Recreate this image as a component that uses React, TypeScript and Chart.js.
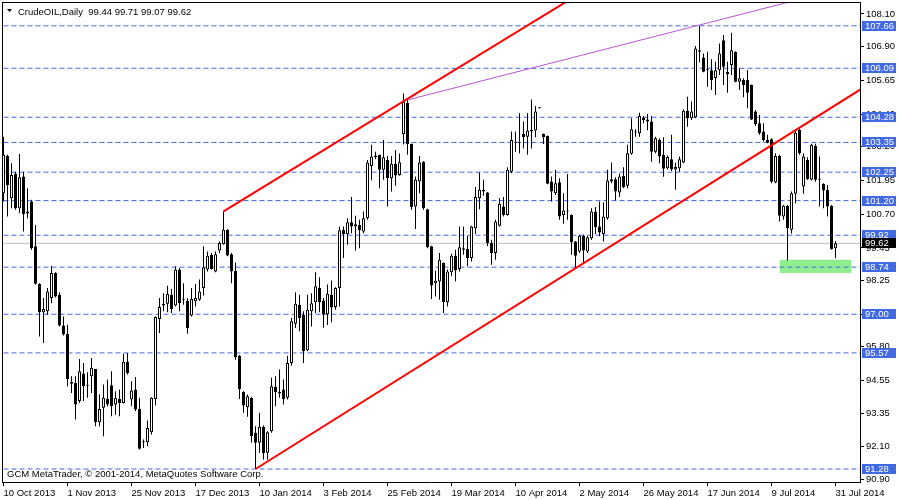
import React, { useEffect, useRef } from "react";
import { Chart, registerables } from "chart.js";

Chart.register(...registerables);

const symbolName = "CrudeOIL";
const timeframe = "Daily";

const opens = [
  101.47, 102.85, 101.29, 102.19, 100.92, 102.09, 100.72, 101.17, 99.51, 98.13,
  97.07, 97.11, 97.6, 98.52, 97.72, 96.58, 96.28, 94.5, 94.46, 93.79,
  94.81, 94.37, 94.71, 94.98, 93.01, 93.54, 93.88, 94.38, 93.66, 93.87,
  93.72, 95.24, 93.85, 94.22, 93.5, 92.29, 92.27, 92.64, 93.87, 96.82,
  97.32, 97.39, 97.72, 97.32, 98.65, 97.55, 97.5, 96.95, 97.48, 97.54,
  97.97, 98.65, 99.2, 98.58, 99.36, 99.59, 100.12, 99.22, 98.61, 95.47,
  94.13, 93.56, 93.91, 92.62, 92.25, 92.84, 91.88, 92.68, 94.31, 94.14,
  94.22, 93.91, 95.2, 96.65, 97.35, 96.98, 95.67, 97.11, 97.44, 97.97,
  97.51, 97.0, 97.72, 97.27, 97.97, 100.12, 99.97, 100.4, 100.24, 100.3,
  100.06, 100.55, 102.48, 102.87, 102.89, 102.34, 102.7, 102.03, 102.56, 102.15,
  103.66, 104.82, 103.29, 100.98, 101.91, 102.64, 100.88, 99.51, 98.15, 98.21,
  98.89, 97.44, 98.55, 99.16, 98.67, 99.44, 99.41, 99.08, 100.18, 101.29,
  101.54, 101.5, 99.63, 99.26, 100.27, 100.98, 100.67, 102.27, 103.34, 103.34,
  103.66, 103.56, 103.81, 103.79, 104.62, 103.66, 103.59, 101.91, 101.47, 101.88,
  100.67, 100.8, 100.67, 99.69, 99.32, 99.9, 99.32, 99.81, 100.8, 100.24,
  99.97, 100.55, 101.91, 101.99, 101.5, 102.11, 101.75, 102.93, 103.75, 103.69,
  104.27, 104.2, 104.12, 103.01, 103.44, 102.89, 102.4, 102.73, 102.35, 102.4,
  102.61, 104.52, 104.24, 104.28, 106.76, 106.49, 106.03, 106.02, 105.72, 106.02,
  107.13, 105.96, 106.21, 106.7, 105.59, 105.66, 105.66, 105.47, 104.49, 104.06,
  103.75, 103.44, 103.47, 101.87, 102.85, 100.61, 101.01, 100.12, 101.45, 103.81,
  101.72, 102.7, 101.97, 103.22, 101.99, 101.82, 101.6, 101.01, 99.44,
];

const highs = [
  103.56, 102.89, 102.58, 102.27, 102.92, 102.27, 101.66, 101.23, 100.3, 98.15,
  97.6, 97.97, 98.79, 98.55, 97.81, 96.92, 96.61, 94.71, 94.71, 95.35,
  95.2, 94.86, 95.38, 94.98, 94.03, 94.4, 94.59, 94.89, 94.15, 94.22,
  95.54, 95.57, 94.52, 94.68, 93.91, 92.37, 93.07, 93.93, 96.92, 97.6,
  97.78, 98.05, 97.93, 98.77, 98.71, 98.15, 97.6, 97.97, 98.12, 98.28,
  99.51, 99.32, 99.26, 99.32, 99.69, 100.8, 100.14, 99.26, 98.91, 95.49,
  94.15, 94.03, 93.93, 92.86, 93.36, 92.89, 92.68, 94.65, 94.71, 94.96,
  94.59, 95.47, 96.86, 97.81, 97.72, 97.11, 97.72, 97.78, 98.55, 98.37,
  97.6, 98.1, 98.25, 98.0, 100.24, 100.24, 100.55, 101.33, 100.64, 100.49,
  100.8, 102.7, 103.26, 103.01, 102.89, 103.44, 102.85, 102.85, 103.07, 102.94,
  105.16, 104.92, 103.31, 102.09, 102.85, 102.66, 100.9, 99.53, 98.61, 99.26,
  98.91, 98.65, 99.24, 99.38, 100.24, 100.24, 99.9, 100.27, 101.7, 102.24,
  101.97, 101.52, 99.75, 100.49, 101.29, 101.33, 102.43, 103.75, 103.75, 104.43,
  104.12, 104.43, 104.94, 104.7, 104.64, 103.68, 103.61, 102.09, 102.34, 102.03,
  101.47, 102.18, 100.69, 99.71, 99.94, 99.94, 99.9, 100.92, 100.96, 101.17,
  101.13, 102.34, 102.61, 102.06, 102.19, 102.43, 103.26, 104.24, 103.84, 104.45,
  104.33, 104.4, 104.33, 103.56, 103.5, 103.54, 102.87, 103.63, 102.6, 102.83,
  104.57, 105.04, 104.86, 106.91, 107.66, 106.64, 106.7, 106.42, 106.33, 107.01,
  107.32, 106.33, 107.4, 106.72, 106.09, 105.72, 106.03, 105.49, 104.55, 104.36,
  104.06, 103.63, 103.5, 102.95, 102.89, 101.04, 101.04, 101.54, 103.81, 103.87,
  102.95, 102.8, 103.3, 103.3, 102.83, 101.84, 101.78, 101.03, 99.71,
];

const lows = [
  101.17, 100.61, 100.92, 100.86, 100.73, 100.06, 100.55, 99.38, 98.09, 96.18,
  95.94, 96.98, 97.41, 97.62, 96.55, 96.21, 94.34, 94.09, 93.11, 93.72,
  93.79, 93.91, 94.09, 92.86, 92.86, 92.49, 93.6, 93.23, 93.29, 93.23,
  93.7, 94.77, 93.6, 93.42, 92.0, 92.06, 92.12, 92.56, 93.63, 96.31,
  97.11, 97.07, 97.05, 97.29, 97.11, 97.35, 96.28, 96.92, 97.29, 97.5,
  97.69, 98.58, 98.65, 98.55, 99.26, 99.57, 99.14, 98.15, 95.32, 93.87,
  93.36, 93.21, 92.25, 91.28, 91.88, 91.63, 91.63, 92.62, 93.6, 93.91,
  93.66, 93.85, 95.1, 96.49, 96.37, 95.2, 95.63, 96.55, 97.05, 97.07,
  96.5, 96.6, 96.7, 97.17, 97.29, 99.08, 99.57, 99.99, 99.36, 99.44,
  99.99, 100.49, 101.95, 102.73, 101.66, 101.97, 100.98, 101.54, 101.75, 102.12,
  103.27, 102.89, 100.86, 100.15, 101.47, 100.86, 99.44, 97.56, 97.66, 97.54,
  97.05, 97.29, 98.4, 98.22, 98.58, 99.2, 98.77, 98.95, 99.97, 100.88,
  101.38, 99.51, 98.83, 99.01, 100.24, 100.61, 100.64, 102.21, 103.01, 102.95,
  103.13, 102.89, 103.13, 103.54, 104.6, 103.29, 101.8, 101.17, 101.41, 100.49,
  100.34, 100.49, 99.2, 98.72, 99.26, 98.89, 99.26, 99.75, 99.97, 99.88,
  99.69, 100.49, 101.84, 101.2, 101.33, 101.66, 101.66, 102.89, 103.56, 103.56,
  104.06, 103.8, 102.64, 102.95, 102.58, 102.08, 102.34, 102.29, 101.6, 102.27,
  102.58, 103.93, 104.18, 104.24, 106.3, 105.94, 105.41, 105.29, 105.1, 105.84,
  105.47, 105.19, 105.84, 105.57, 105.29, 105.02, 104.61, 104.18, 103.96, 103.63,
  103.38, 103.32, 101.84, 101.84, 100.43, 100.49, 98.99, 99.98, 101.1, 102.89,
  101.45, 101.97, 101.94, 101.9, 100.98, 100.92, 100.61, 99.38, 99.07,
];

const closes = [
  102.89, 101.78, 102.15, 100.92, 102.06, 100.7, 100.8, 99.44, 98.13, 97.07,
  97.19, 97.84, 98.52, 97.66, 96.58, 96.25, 94.61, 94.43, 93.66, 94.89,
  94.34, 94.36, 95.02, 93.01, 93.5, 93.91, 93.66, 93.6, 93.91, 93.72,
  95.24, 94.83, 94.18, 93.48, 92.03, 92.27, 92.8, 93.91, 96.9, 97.27,
  97.38, 97.75, 97.19, 98.65, 97.41, 97.54, 96.49, 97.56, 97.6, 97.84,
  98.74, 99.16, 98.67, 99.22, 99.63, 100.12, 99.17, 98.58, 95.41, 94.24,
  93.63, 93.97, 92.49, 92.25, 92.84, 91.86, 92.64, 94.34, 94.12, 94.07,
  93.87, 95.2, 96.74, 97.39, 96.86, 95.63, 97.17, 97.41, 98.03, 97.44,
  96.98, 97.76, 97.25, 97.97, 100.1, 99.97, 100.4, 100.24, 100.33, 100.1,
  100.55, 102.61, 102.83, 102.8, 102.34, 102.8, 102.03, 102.56, 102.13, 102.62,
  104.84, 103.29, 100.96, 101.97, 102.61, 100.92, 99.48, 98.06, 98.24, 99.01,
  97.44, 98.58, 99.16, 98.62, 99.48, 99.38, 99.08, 100.24, 101.33, 101.6,
  101.6, 99.63, 99.26, 100.43, 101.08, 100.67, 102.34, 103.44, 103.34, 103.34,
  103.54, 103.79, 103.75, 104.49, 104.61, 103.54, 101.82, 101.54, 101.84, 100.61,
  100.83, 100.8, 99.67, 99.16, 99.9, 99.36, 99.85, 100.8, 100.22, 100.02,
  100.61, 101.94, 101.99, 101.54, 102.09, 101.7, 102.95, 103.84, 103.72, 104.33,
  104.18, 104.12, 103.01, 103.5, 102.83, 102.38, 102.81, 102.35, 102.44, 102.73,
  104.52, 104.24, 104.49, 106.82, 106.7, 105.96, 106.02, 105.66, 106.02, 106.64,
  106.15, 105.87, 106.76, 105.59, 105.72, 105.47, 105.19, 104.2, 104.03, 103.69,
  103.44, 103.34, 101.9, 102.85, 100.64, 101.01, 100.18, 101.47, 103.71, 102.95,
  102.83, 101.99, 103.26, 101.97, 101.97, 101.57, 100.98, 99.41, 99.62,
];

const dateLabels = [
  "10 Oct 2013", "1 Nov 2013", "25 Nov 2013", "17 Dec 2013", "10 Jan 2014",
  "3 Feb 2014", "25 Feb 2014", "19 Mar 2014", "10 Apr 2014", "2 May 2014",
  "26 May 2014", "17 Jun 2014", "9 Jul 2014", "31 Jul 2014",
];
const barsPerDateTick = 16;

const yTickValues = [
  108.1, 106.9, 105.65, 104.4, 103.2, 101.95, 100.7, 99.45, 98.25, 97.0,
  95.8, 94.55, 93.35, 92.1, 90.9,
];

const levelLines = [107.66, 106.09, 104.28, 103.35, 102.25, 101.2, 99.92, 98.74, 97.0, 95.57, 91.28];
const bidPrice = 99.62;

const upperChannelBars = [55, 100];
const upperChannelPrices = [100.8, 104.87];
const lowerChannelBars = [63, 143];
const lowerChannelPrices = [91.28, 98.7];
const purpleBars = [101, 174];
const purplePrices = [104.92, 107.69];
const zoneBars = [194, 212];
const zonePrices = [98.52, 99.01];

const copyrightText = "GCM MetaTrader, \u00A9 2001-2014, MetaQuotes Software Corp.";

const FONT_FAMILY = "'Liberation Sans', Arial, sans-serif";
const FONT_SIZE = 9.5;
const BLUE = "#4169E1";

function ray(bars: number[], prices: number[], toBar: number) {
  const slope = (prices[1] - prices[0]) / (bars[1] - bars[0]);
  return [
    { x: bars[0], y: prices[0] },
    { x: toBar, y: prices[0] + slope * (toBar - bars[0]) },
  ];
}

const overlayPlugin = {
  id: "mt4Overlay",
  afterDraw(chart: any) {
    const { ctx, chartArea: a, scales } = chart;
    const ys = scales.y;
    ctx.save();
    ctx.fillStyle = "#000";
    ctx.fillRect(a.left, a.top, a.right - a.left, 1);
    ctx.fillRect(a.left, a.top, 1, a.bottom - a.top);

    ctx.font = `${FONT_SIZE}px ${FONT_FAMILY}`;
    ctx.textAlign = "left";
    ctx.textBaseline = "middle";
    const drawBox = (v: number, bg: string) => {
      const py = Math.round(ys.getPixelForValue(v));
      ctx.fillStyle = bg;
      ctx.fillRect(a.right + 2, py - 5, 34, 10);
      ctx.fillStyle = "#fff";
      ctx.fillText(v.toFixed(2), a.right + 5, py + 0.5);
    };
    levelLines.forEach((v) => drawBox(v, BLUE));
    drawBox(bidPrice, "#000");

    const last = opens.length - 1;
    ctx.fillStyle = "#000";
    ctx.beginPath();
    ctx.moveTo(a.left + 5, a.top + 7);
    ctx.lineTo(a.left + 10, a.top + 7);
    ctx.lineTo(a.left + 7.5, a.top + 10);
    ctx.closePath();
    ctx.fill();
    ctx.textBaseline = "alphabetic";
    ctx.fillText(
      `${symbolName},${timeframe}  ${opens[last].toFixed(2)} ${highs[last].toFixed(2)} ${lows[last].toFixed(2)} ${closes[last].toFixed(2)}`,
      a.left + 16,
      a.top + 12.5
    );
    ctx.fillText(copyrightText, a.left + 5, a.bottom - 5);
    ctx.restore();
  },
};

export default function App() {
  const canvasRef = useRef<HTMLCanvasElement | null>(null);

  useEffect(() => {
    document.body.style.margin = "0";
    const canvas = canvasRef.current;
    if (!canvas) return;
    const n = opens.length;
    const farBar = n + 12;

    const bodies = opens.map((o, i) => ({ x: i, y: [o, closes[i]] }));
    const wicks = lows.map((l, i) => ({ x: i, y: [l, highs[i]] }));
    const hlineData = (v: number) => [
      { x: -2, y: v },
      { x: farBar, y: v },
    ];

    const datasets: any[] = [];
    datasets.push({
      type: "line",
      data: [
        { x: zoneBars[0], y: zonePrices[1] },
        { x: zoneBars[1], y: zonePrices[1] },
      ],
      fill: { value: zonePrices[0] },
      backgroundColor: "#90EE90",
      borderWidth: 0,
      pointRadius: 0,
      order: 6,
      clip: 0,
    });
    levelLines.forEach((v) =>
      datasets.push({
        type: "line",
        data: hlineData(v),
        borderColor: BLUE,
        borderWidth: 1,
        borderDash: [5, 3],
        pointRadius: 0,
        fill: false,
        order: 5,
        clip: 0,
      })
    );
    datasets.push({
      type: "line",
      data: hlineData(bidPrice),
      borderColor: "#C0C0C0",
      borderWidth: 1,
      pointRadius: 0,
      fill: false,
      order: 4,
      clip: 0,
    });
    datasets.push({
      type: "bar",
      data: wicks,
      backgroundColor: "#000",
      borderWidth: 0,
      barThickness: 1,
      grouped: false,
      inflateAmount: 0,
      order: 3,
    });
    datasets.push({
      type: "bar",
      data: bodies,
      backgroundColor: (c: any) => {
        const i = c.dataIndex;
        return closes[i] >= opens[i] ? "#FFFFFF" : "#000000";
      },
      borderColor: "#000",
      borderWidth: 1,
      borderSkipped: false,
      barThickness: 3,
      minBarLength: 1,
      grouped: false,
      inflateAmount: 0,
      order: 2,
    });
    datasets.push({
      type: "line",
      data: ray(upperChannelBars, upperChannelPrices, farBar),
      borderColor: "#FF0000",
      borderWidth: 2,
      pointRadius: 0,
      fill: false,
      order: 1,
      clip: 0,
    });
    datasets.push({
      type: "line",
      data: ray(lowerChannelBars, lowerChannelPrices, farBar),
      borderColor: "#FF0000",
      borderWidth: 2,
      pointRadius: 0,
      fill: false,
      order: 1,
      clip: 0,
    });
    datasets.push({
      type: "line",
      data: ray(purpleBars, purplePrices, farBar + 40),
      borderColor: "#BA55D3",
      borderWidth: 1,
      pointRadius: 0,
      fill: false,
      order: 0,
      clip: 0,
    });

    const font = { family: FONT_FAMILY, size: FONT_SIZE };

    const chart = new Chart(canvas, {
      type: "bar",
      data: { datasets },
      options: {
        animation: false,
        responsive: true,
        maintainAspectRatio: false,
        devicePixelRatio: 1,
        layout: { padding: { left: 2, top: 2, right: 0, bottom: 0 } },
        plugins: {
          legend: { display: false },
          tooltip: { enabled: false },
        },
        scales: {
          x: {
            type: "linear",
            min: -0.375,
            max: 214.125,
            offset: false,
            grid: {
              display: true,
              drawOnChartArea: false,
              drawTicks: true,
              tickLength: 4,
              color: "#000",
              offset: false,
            },
            border: { display: true, color: "#000", width: 1 },
            ticks: {
              autoSkip: false,
              maxRotation: 0,
              minRotation: 0,
              align: "start",
              padding: 2,
              color: "#000",
              font,
              callback: (value: any) => dateLabels[Math.round(Number(value) / barsPerDateTick)] ?? "",
            },
            afterBuildTicks: (scale: any) => {
              scale.ticks = dateLabels.map((_, k) => ({ value: k * barsPerDateTick }));
            },
            afterFit: (scale: any) => {
              scale.height = 18;
              scale.paddingLeft = 0;
              scale.paddingRight = 0;
            },
          },
          y: {
            type: "linear",
            position: "right",
            min: 90.8,
            max: 108.54,
            grid: {
              display: true,
              drawOnChartArea: false,
              drawTicks: true,
              tickLength: 4,
              color: "#000",
            },
            border: { display: true, color: "#000", width: 1 },
            ticks: {
              autoSkip: false,
              padding: 2,
              color: "#000",
              font,
              callback: (value: any) => Number(value).toFixed(2),
            },
            afterBuildTicks: (scale: any) => {
              scale.ticks = yTickValues.map((v) => ({ value: v }));
            },
            afterFit: (scale: any) => {
              scale.width = 40;
              scale.paddingTop = 0;
              scale.paddingBottom = 0;
            },
          },
        },
      } as any,
      plugins: [overlayPlugin],
    });
    return () => chart.destroy();
  }, []);

  return (
    <div style={{ position: "absolute", left: 0, top: 0, width: 900, height: 500, background: "#fff" }}>
      <canvas ref={canvasRef} />
    </div>
  );
}
